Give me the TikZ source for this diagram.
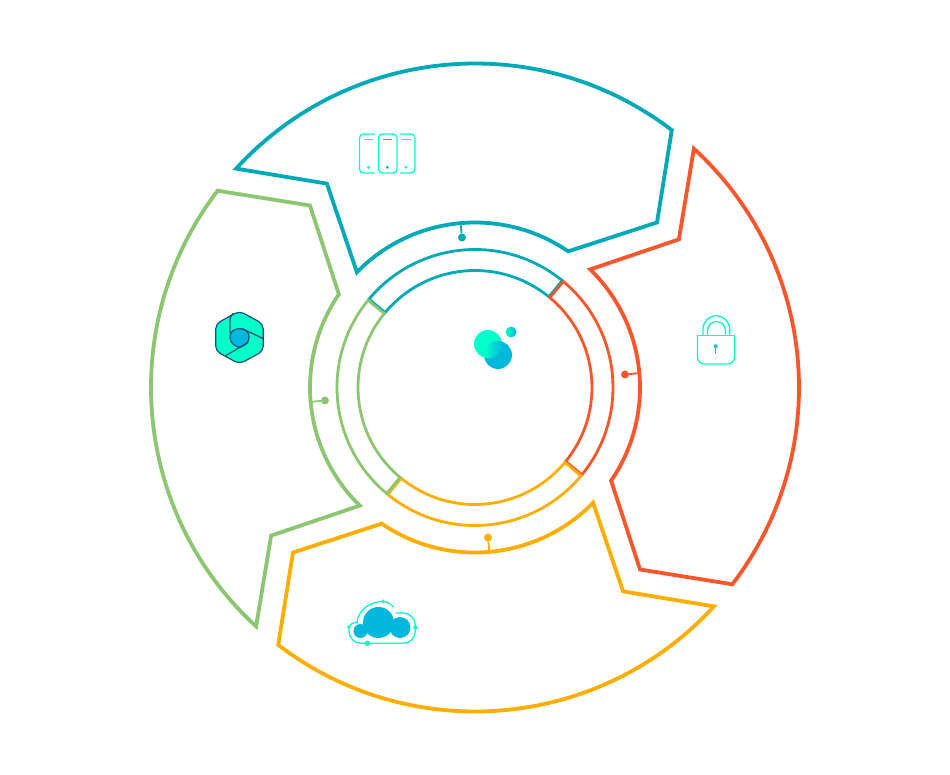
\documentclass[tikz,border=0pt]{standalone}
\usepackage{amsmath}
\usetikzlibrary{positioning,calc}
\definecolor{tealc}{HTML}{00A9B7}
\definecolor{redc}{HTML}{F9572B}
\definecolor{yellowc}{HTML}{FFAE00}
\definecolor{greenc}{HTML}{8CC671}
\definecolor{mintc}{HTML}{05FFC8}
\definecolor{bluec}{HTML}{00B8DC}
\definecolor{navyc}{HTML}{10507A}
\tikzset{
  outerline/.style={line width=3.8pt,line join=miter},
  innerline/.style={line width=2.8pt,line join=miter},
  dot/.style={circle,inner sep=0pt,minimum size=8pt},
  iconline/.style={mintc,line width=1.3pt,line cap=round},
  hexline/.style={navyc,line width=1.2pt,line cap=round}
}

\begin{document}
\begin{tikzpicture}[x=1pt,y=1pt]
  \useasboundingbox (-475,-387.5) rectangle (475,387.5);
  \begin{scope}
    \draw[outerline,tealc](137.5:324) arc (137.5:52.6:324) -- (42.2:245.7) -- (55.6:165) arc (55.6:135.7:165) -- (126:252) -- cycle;
    \draw[innerline,tealc](50.8:138) arc (50.8:140.2:138) -- (140.2:117) arc (140.2:50.8:117) -- cycle;
    \node[dot,fill=tealc] (tealdot) at (-13,150){};
    \coordinate (tealroot) at (95:165);
    \draw[tealc,line width=1.8pt](tealdot)--(tealroot);
  \end{scope}
  \begin{scope}[rotate=-90]
    \draw[outerline,redc](137.5:324) arc (137.5:52.6:324) -- (42.2:245.7) -- (55.6:165) arc (55.6:135.7:165) -- (126:252) -- cycle;
    \draw[innerline,redc](50.8:138) arc (50.8:140.2:138) -- (140.2:117) arc (140.2:50.8:117) -- cycle;
    \node[dot,fill=redc] (reddot) at (-13,150){};
    \coordinate (redroot) at (95:165);
    \draw[redc,line width=1.8pt](reddot)--(redroot);
  \end{scope}
  \begin{scope}[rotate=-180]
    \draw[outerline,yellowc](137.5:324) arc (137.5:52.6:324) -- (42.2:245.7) -- (55.6:165) arc (55.6:135.7:165) -- (126:252) -- cycle;
    \draw[innerline,yellowc](50.8:138) arc (50.8:140.2:138) -- (140.2:117) arc (140.2:50.8:117) -- cycle;
    \node[dot,fill=yellowc] (yellowdot) at (-13,150){};
    \coordinate (yellowroot) at (95:165);
    \draw[yellowc,line width=1.8pt](yellowdot)--(yellowroot);
  \end{scope}
  \begin{scope}[rotate=-270]
    \draw[outerline,greenc](137.5:324) arc (137.5:52.6:324) -- (42.2:245.7) -- (55.6:165) arc (55.6:135.7:165) -- (126:252) -- cycle;
    \draw[innerline,greenc](50.8:138) arc (50.8:140.2:138) -- (140.2:117) arc (140.2:50.8:117) -- cycle;
    \node[dot,fill=greenc] (greendot) at (-13,150){};
    \coordinate (greenroot) at (95:165);
    \draw[greenc,line width=1.8pt](greendot)--(greenroot);
  \end{scope}
  \begin{scope}[shift={(-475,387.5)},yscale=-1]
    % centre bubbles
    \fill[bluec](498,355)circle(14);
    \fill[mintc](488,344)circle(14);
    \begin{scope}
      \clip(488,344)circle(14);
      \clip(498,355)circle(14);
      \shade[left color=mintc,right color=bluec](484,341) rectangle (502,358);
    \end{scope}
    \node[circle,inner sep=0pt,minimum size=11pt,left color=mintc,right color=bluec] (bubblesmall) at (511,332){};
    % phones
    \draw[iconline,rounded corners=4pt](374.5,134) -- (359.5,134) -- (359.5,173) -- (374.5,173);
    \draw[iconline,rounded corners=4pt](378.5,134) rectangle (397,173);
    \draw[iconline,rounded corners=4pt](400.5,134) -- (415,134) -- (415,173) -- (400.5,173);
    \draw[iconline](365,139.5) -- (373,139.5);
    \draw[iconline,bluec](383.5,139.5) -- (391.5,139.5);
    \draw[iconline](402,139.5) -- (410,139.5);
    \fill[mintc](368.7,167.3)circle(1.7);
    \fill[bluec](387.3,167.3)circle(1.7);
    \fill[mintc](406,167.3)circle(1.7);
    % hexagon
    \filldraw[fill=mintc,draw=navyc,line width=1.2pt,rounded corners=5pt](239.5,311) -- (263.3,324) -- (263.3,351) -- (239.5,364) -- (215.7,351) -- (215.7,324) -- cycle;
    \filldraw[fill=bluec,draw=navyc,line width=1.2pt,rounded corners=4pt](239.5,327.5) -- (249,332) -- (249,342) -- (239.5,348.5) -- (230,342) -- (230,332) -- cycle;
    \draw[hexline,rounded corners=3pt](233,313.5) -- (230,317) -- (230,333);
    \draw[hexline](243,329) -- (263,338.5);
    \draw[hexline](248,342.5) -- (226,355.5);
    % lock
    \draw[iconline,rounded corners=7pt](697.5,335.8) -- (697.5,364) -- (734.5,364) -- (734.5,335.8);
    \draw[iconline](697.5,335.8) -- (734.5,335.8);
    \draw[iconline](703,335) -- (703,329) arc (180:360:13.3) -- (729.6,335);
    \draw[iconline](707.5,335) -- (707.5,330.5) arc (180:360:9) -- (725.5,335);
    \fill[bluec](715.7,346.3)circle(2);
    \draw[bluec!70!mintc,line width=1.2pt](715.7,346.3) -- (715.7,354);
    % cloud
    \fill[bluec](378.5,622.5)circle(15.5);
    \fill[bluec](400,627.5)circle(10.5);
    \fill[bluec](360.5,631)circle(7);
    \draw[iconline,rounded corners=12pt](349,627.5) -- (349,643.2) -- (415.3,643.2) -- (415.3,613) -- (396,613);
    \draw[iconline](349,627.5) .. controls (350,624) and (353,622.5) .. (357,622.5) .. controls (358,610) and (370,601.5) .. (383,601.5) .. controls (387,601.5) and (391,604) .. (393.5,607);
    \fill[mintc](348.7,627)circle(1.9);
    \fill[mintc](367.3,643.3)circle(2.8);
    \fill[mintc](415.3,627.3)circle(2.1);
    \fill[mintc](383,601.3)circle(1.9);
  \end{scope}
\end{tikzpicture}
\end{document}
